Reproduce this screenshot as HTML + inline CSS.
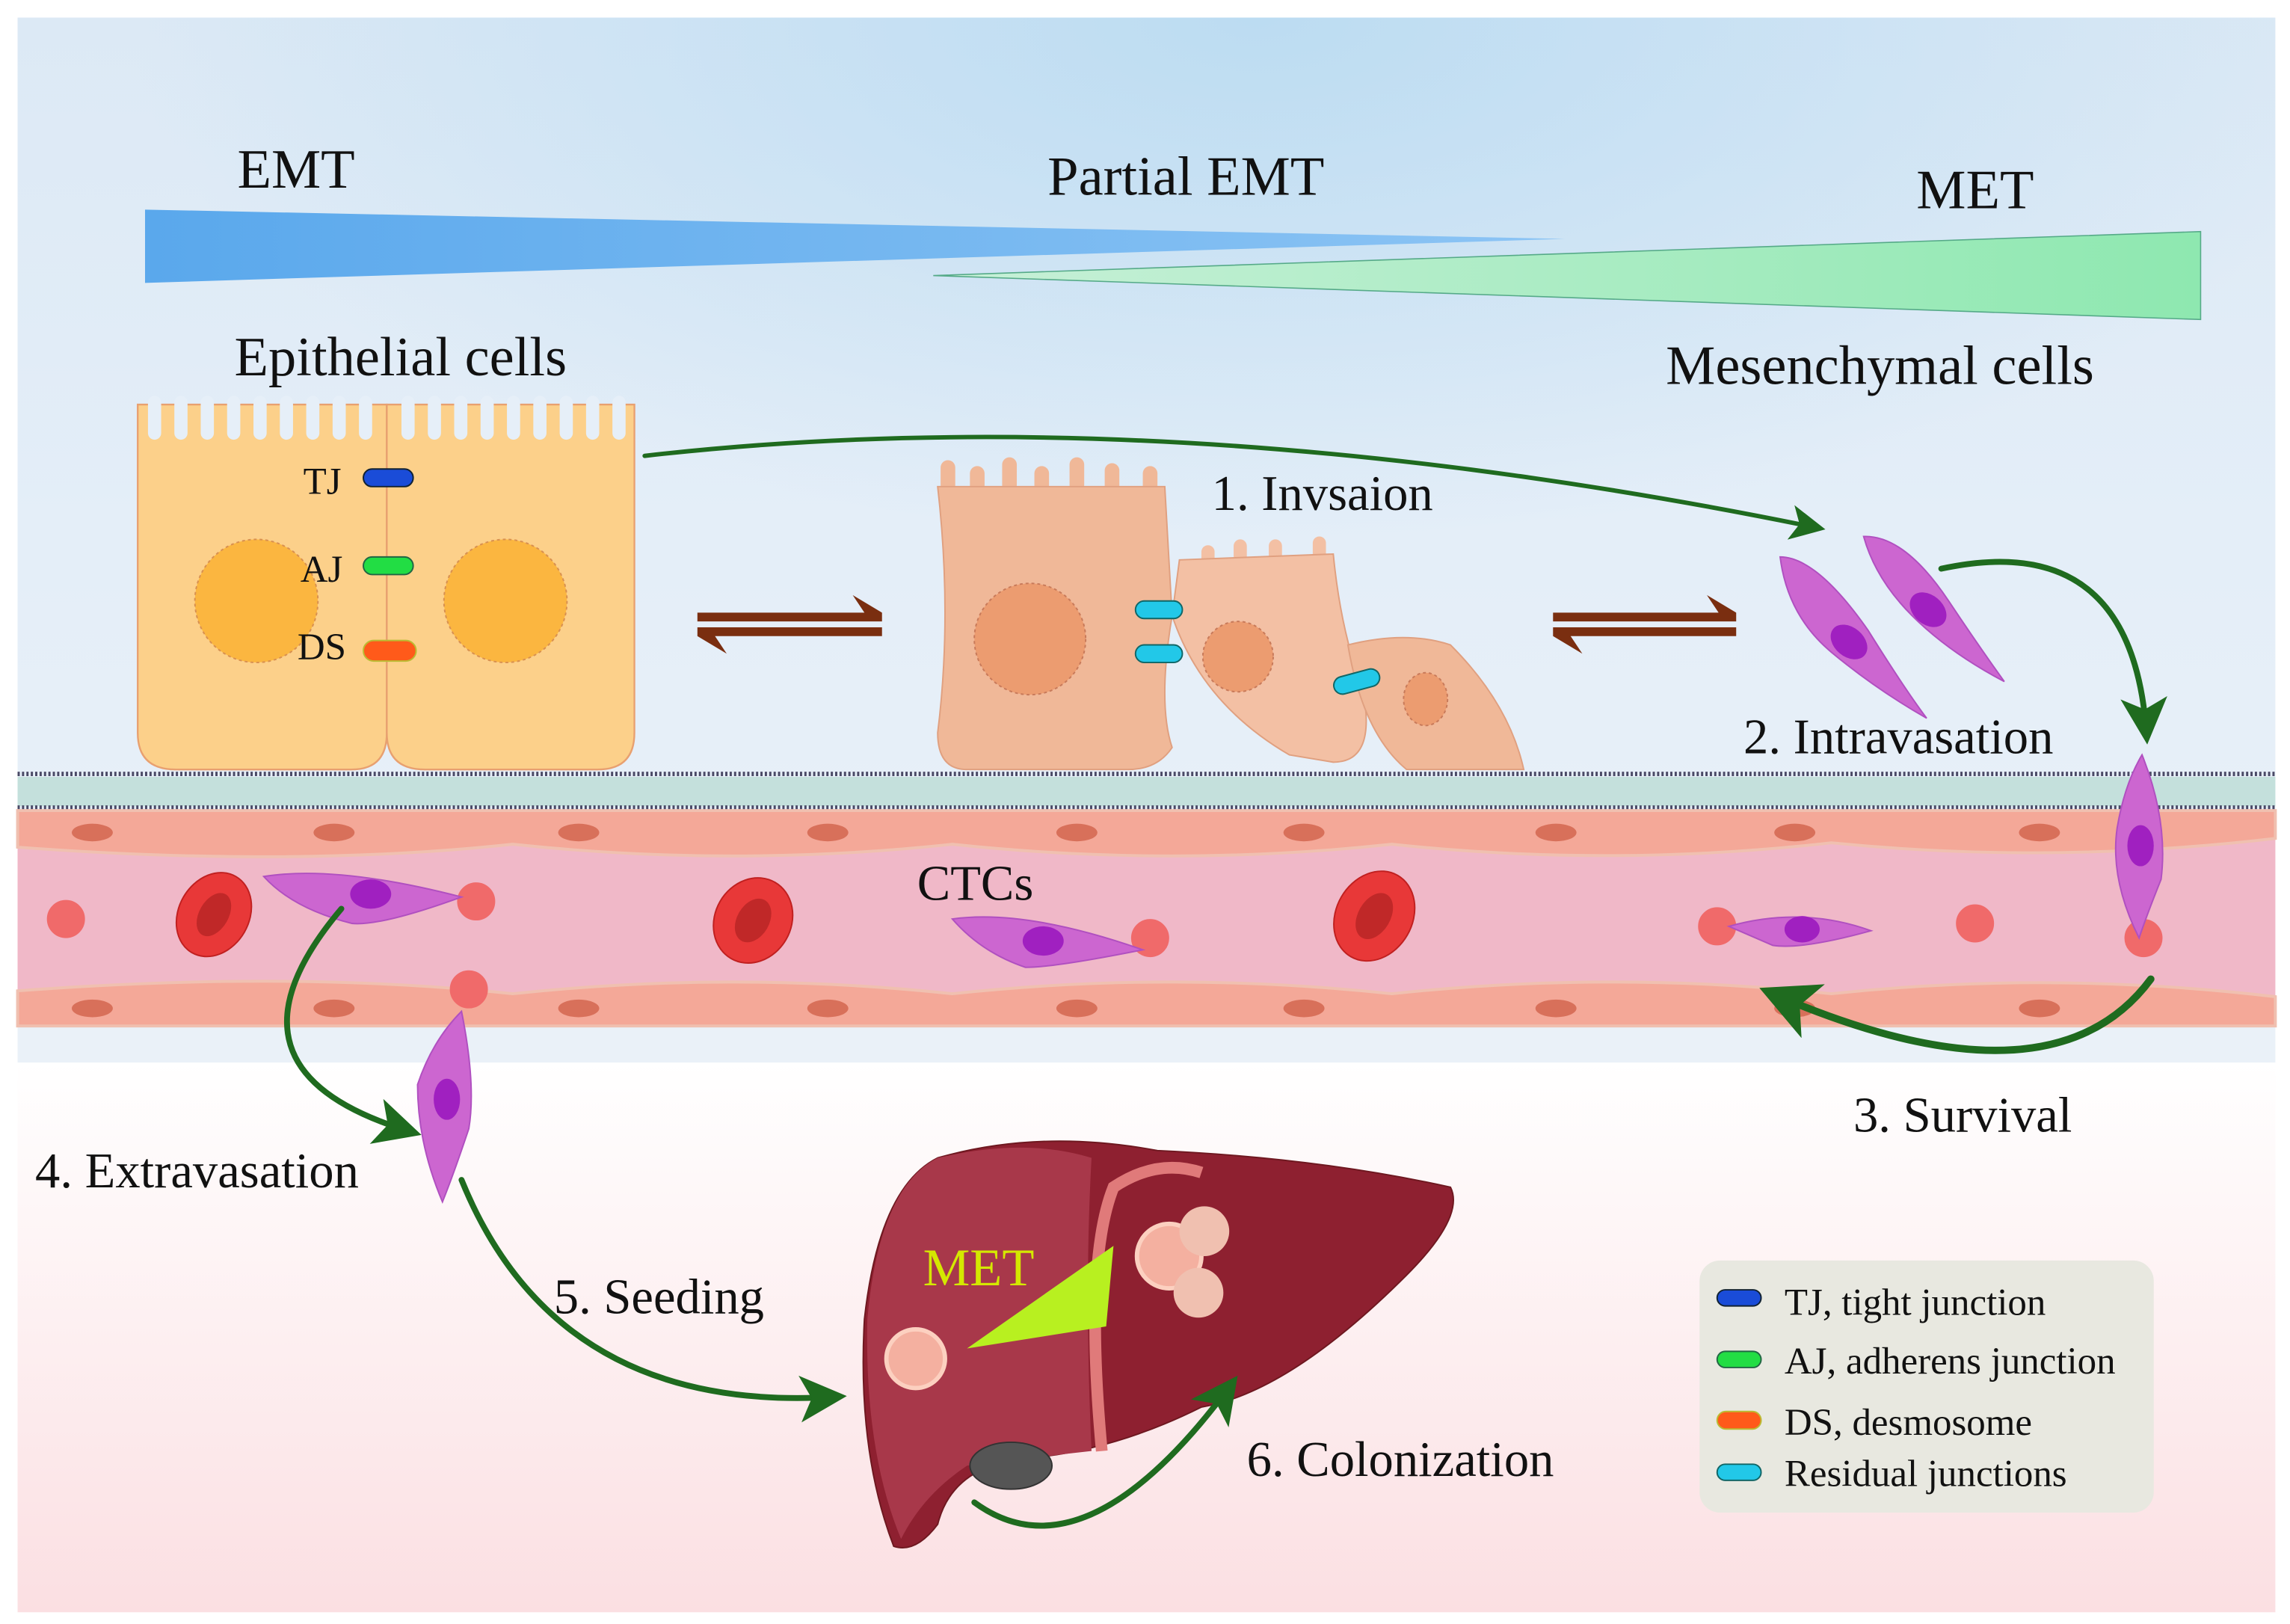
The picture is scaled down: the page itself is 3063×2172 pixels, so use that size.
<!DOCTYPE html>
<html><head><meta charset="utf-8"><style>
html,body{margin:0;padding:0;background:#fff}
svg{display:block}
text{font-family:"Liberation Serif",serif;fill:#111}
</style></head><body>
<svg width="3063" height="2172" viewBox="0 0 1563 1108" preserveAspectRatio="none" xmlns="http://www.w3.org/2000/svg">
<defs>
<linearGradient id="sky" x1="0" y1="0" x2="0" y2="1">
<stop offset="0" stop-color="#dce9f5"/><stop offset="0.5" stop-color="#e4eef8"/><stop offset="1" stop-color="#eaf1f8"/></linearGradient>
<radialGradient id="skyr" cx="0.55" cy="0" r="0.5"><stop offset="0" stop-color="#bcdcf2"/><stop offset="1" stop-color="#bcdcf2" stop-opacity="0"/></radialGradient>
<linearGradient id="low" x1="0" y1="0" x2="0" y2="1"><stop offset="0" stop-color="#ffffff"/><stop offset="1" stop-color="#fbdfe2"/></linearGradient>
<linearGradient id="blueW" x1="0" y1="0" x2="1" y2="0"><stop offset="0" stop-color="#5aa8ec"/><stop offset="1" stop-color="#8cc4f4"/></linearGradient>
<linearGradient id="greenW" x1="0" y1="0" x2="1" y2="0"><stop offset="0" stop-color="#c8f0d8"/><stop offset="1" stop-color="#8ee8b0"/></linearGradient>
<marker id="ah" markerWidth="8" markerHeight="8" refX="6" refY="4" orient="auto" markerUnits="strokeWidth"><path d="M0,0 L8,4 L0,8 L2,4 Z" fill="#1f6b1f"/></marker>
</defs>
<rect width="1563" height="1108" fill="#fff"/>
<rect x="12" y="12" width="1541" height="713" fill="url(#sky)"/>
<rect x="12" y="12" width="1541" height="713" fill="url(#skyr)"/>
<rect x="12" y="725" width="1541" height="375" fill="url(#low)"/>

<!-- wedges -->
<polygon points="99,143 1068,163 99,193" fill="url(#blueW)"/>
<polygon points="637,188 1502,158 1502,218" fill="url(#greenW)" stroke="#5a8" stroke-width="0.8"/>
<text x="162" y="128" font-size="38">EMT</text>
<text x="715" y="133" font-size="38">Partial EMT</text>
<text x="1308" y="142" font-size="38">MET</text>
<text x="160" y="256" font-size="38">Epithelial cells</text>
<text x="1137" y="262" font-size="38">Mesenchymal cells</text>

<!-- epithelial cells -->
<g fill="#fcd08a" stroke="#e8a070" stroke-width="1.2">
<path d="M94,276 L94,500 Q94,525 120,525 L240,525 Q264,525 264,500 L264,276 Z"/>
<path d="M264,276 L264,500 Q264,525 290,525 L408,525 Q433,525 433,500 L433,276 Z"/>
</g>
<g fill="#e6eff8">
<rect x="101" y="270" width="9" height="30" rx="4.5"/><rect x="119" y="270" width="9" height="30" rx="4.5"/><rect x="137" y="270" width="9" height="30" rx="4.5"/><rect x="155" y="270" width="9" height="30" rx="4.5"/><rect x="173" y="270" width="9" height="30" rx="4.5"/><rect x="191" y="270" width="9" height="30" rx="4.5"/><rect x="209" y="270" width="9" height="30" rx="4.5"/><rect x="227" y="270" width="9" height="30" rx="4.5"/><rect x="245" y="270" width="9" height="30" rx="4.5"/>
<rect x="274" y="270" width="9" height="30" rx="4.5"/><rect x="292" y="270" width="9" height="30" rx="4.5"/><rect x="310" y="270" width="9" height="30" rx="4.5"/><rect x="328" y="270" width="9" height="30" rx="4.5"/><rect x="346" y="270" width="9" height="30" rx="4.5"/><rect x="364" y="270" width="9" height="30" rx="4.5"/><rect x="382" y="270" width="9" height="30" rx="4.5"/><rect x="400" y="270" width="9" height="30" rx="4.5"/><rect x="418" y="270" width="9" height="30" rx="4.5"/>
</g>
<circle cx="175" cy="410" r="42" fill="#fbb640" stroke="#d89050" stroke-dasharray="2,2"/>
<circle cx="345" cy="410" r="42" fill="#fbb640" stroke="#d89050" stroke-dasharray="2,2"/>
<rect x="248" y="320" width="34" height="12" rx="6" fill="#1a4cd8" stroke="#123"/>
<rect x="248" y="380" width="34" height="12" rx="6" fill="#22dd44" stroke="#264"/>
<rect x="248" y="437" width="36" height="14" rx="7" fill="#ff5a1a" stroke="#bb3"/>
<text x="207" y="337" font-size="26">TJ</text>
<text x="205" y="397" font-size="26">AJ</text>
<text x="203" y="450" font-size="26">DS</text>

<!-- partial cells -->
<g fill="#f0b898">
<rect x="642" y="314" width="10" height="22" rx="5"/><rect x="662" y="318" width="10" height="20" rx="5"/><rect x="684" y="312" width="10" height="24" rx="5"/><rect x="706" y="318" width="10" height="20" rx="5"/><rect x="730" y="312" width="10" height="24" rx="5"/><rect x="754" y="316" width="10" height="22" rx="5"/><rect x="780" y="318" width="10" height="20" rx="5"/>
</g>
<g fill="#f3c0a4"><rect x="820" y="372" width="9" height="18" rx="4.5"/><rect x="842" y="368" width="9" height="18" rx="4.5"/><rect x="866" y="368" width="9" height="18" rx="4.5"/><rect x="896" y="366" width="9" height="18" rx="4.5"/></g>
<path d="M640,332 L795,332 L800,420 Q790,480 800,510 Q790,525 770,525 L660,525 Q640,525 640,500 Q650,420 640,332 Z" fill="#f0b898" stroke="#e0a080"/>
<path d="M805,382 L910,378 Q915,430 930,470 Q940,520 910,520 L880,515 Q820,480 800,420 Z" fill="#f3c0a4" stroke="#e0a080"/>
<path d="M920,440 Q960,430 990,440 Q1030,480 1040,525 L960,525 Q930,500 920,440 Z" fill="#f0b898" stroke="#e0a080"/>
<circle cx="703" cy="436" r="38" fill="#ec9c70" stroke="#c87a5a" stroke-dasharray="2,2"/>
<circle cx="845" cy="448" r="24" fill="#ec9c70" stroke="#c87a5a" stroke-dasharray="2,2"/>
<ellipse cx="973" cy="477" rx="15" ry="18" fill="#ec9c70" stroke="#c87a5a" stroke-dasharray="2,2"/>
<rect x="775" y="410" width="32" height="12" rx="6" fill="#22c8e8" stroke="#166"/>
<rect x="775" y="440" width="32" height="12" rx="6" fill="#22c8e8" stroke="#166"/>
<rect x="910" y="459" width="32" height="12" rx="6" fill="#22c8e8" stroke="#166" transform="rotate(-15 926 465)"/>
<text x="827" y="348" font-size="34">1. Invsaion</text>

<!-- equilibrium arrows -->
<g fill="#7a2e10">
<path d="M476,418 L602,418 L602,424 L476,424 Z M582,406 L602,418 L590,418 Z"/>
<path d="M476,428 L602,428 L602,434 L476,434 Z M476,434 L496,446 L488,434 Z"/>
<path d="M1060,418 L1185,418 L1185,424 L1060,424 Z M1165,406 L1185,418 L1173,418 Z"/>
<path d="M1060,428 L1185,428 L1185,434 L1060,434 Z M1060,434 L1080,446 L1072,434 Z"/>
</g>

<!-- mesenchymal cells -->
<g fill="#cc66d0" stroke="#b050c0">
<path d="M1215,380 Q1240,380 1275,430 Q1300,470 1315,490 Q1280,470 1250,445 Q1220,420 1215,380 Z"/>
<path d="M1272,366 Q1300,365 1330,410 Q1350,440 1368,465 Q1330,445 1305,420 Q1280,395 1272,366 Z"/>
</g>
<ellipse cx="1262" cy="438" rx="14" ry="10" fill="#a020c0" transform="rotate(40 1262 438)"/>
<ellipse cx="1316" cy="416" rx="14" ry="10" fill="#a020c0" transform="rotate(40 1316 416)"/>
<text x="1190" y="514" font-size="34">2. Intravasation</text>

<!-- membrane and vessel -->
<line x1="12" y1="528" x2="1553" y2="528" stroke="#4a4a66" stroke-width="3" stroke-dasharray="1.5,1.5"/>
<rect x="12" y="530" width="1541" height="20" fill="#c4e0dc"/>
<line x1="12" y1="551" x2="1553" y2="551" stroke="#4a4a66" stroke-width="3" stroke-dasharray="1.5,1.5"/>
<rect x="12" y="553" width="1541" height="147" fill="#f0b8c8"/>
<g fill="#f4a898" stroke="#f0c0b0" stroke-width="2">
<path d="M12,553 H1553 V572 Q1400,590 1250,575 Q1100,592 950,576 Q800,592 650,576 Q500,592 350,576 Q200,592 12,578 Z"/>
<path d="M12,700 H1553 V680 Q1400,662 1250,678 Q1100,662 950,678 Q800,662 650,678 Q500,662 350,678 Q200,662 12,676 Z"/>
</g>
<g fill="#d8705a">
<ellipse cx="63" cy="568" rx="14" ry="6"/><ellipse cx="228" cy="568" rx="14" ry="6"/><ellipse cx="395" cy="568" rx="14" ry="6"/><ellipse cx="565" cy="568" rx="14" ry="6"/><ellipse cx="735" cy="568" rx="14" ry="6"/><ellipse cx="890" cy="568" rx="14" ry="6"/><ellipse cx="1062" cy="568" rx="14" ry="6"/><ellipse cx="1225" cy="568" rx="14" ry="6"/><ellipse cx="1392" cy="568" rx="14" ry="6"/>
<ellipse cx="63" cy="688" rx="14" ry="6"/><ellipse cx="228" cy="688" rx="14" ry="6"/><ellipse cx="395" cy="688" rx="14" ry="6"/><ellipse cx="565" cy="688" rx="14" ry="6"/><ellipse cx="735" cy="688" rx="14" ry="6"/><ellipse cx="890" cy="688" rx="14" ry="6"/><ellipse cx="1062" cy="688" rx="14" ry="6"/><ellipse cx="1225" cy="688" rx="14" ry="6"/><ellipse cx="1392" cy="688" rx="14" ry="6"/>
</g>
<!-- RBCs -->
<g fill="#e83838" stroke="#c02020">
<ellipse cx="146" cy="624" rx="24" ry="30" transform="rotate(30 146 624)"/>
<ellipse cx="514" cy="628" rx="26" ry="30" transform="rotate(30 514 628)"/>
<ellipse cx="938" cy="625" rx="26" ry="32" transform="rotate(30 938 625)"/>
</g>
<g fill="#c02828"><ellipse cx="146" cy="624" rx="10" ry="16" transform="rotate(30 146 624)"/><ellipse cx="514" cy="628" rx="11" ry="16" transform="rotate(30 514 628)"/><ellipse cx="938" cy="625" rx="11" ry="17" transform="rotate(30 938 625)"/></g>
<!-- platelets -->
<g fill="#f06a6a" stroke="#f06a6a" stroke-width="2">
<circle cx="45" cy="627" r="12"/><circle cx="325" cy="615" r="12"/><circle cx="320" cy="675" r="12"/><circle cx="785" cy="640" r="12"/><circle cx="1172" cy="632" r="12"/><circle cx="1348" cy="630" r="12"/><circle cx="1463" cy="640" r="12"/>
</g>
<!-- CTCs -->
<g fill="#cc66d0" stroke="#b050c0">
<path d="M180,598 Q230,590 315,612 Q260,632 240,630 Q200,620 180,598 Z"/>
<path d="M650,627 Q700,620 780,648 Q720,660 700,660 Q670,650 650,627 Z"/>
<path d="M1180,632 Q1230,618 1277,635 Q1230,648 1210,645 Z"/>
<path d="M1462,515 Q1480,560 1475,600 Q1465,625 1460,640 Q1440,600 1445,565 Q1450,535 1462,515 Z"/>
<path d="M315,690 Q325,740 320,770 Q310,800 302,820 Q285,780 285,740 Q295,710 315,690 Z"/>
</g>
<g fill="#a020c0"><ellipse cx="253" cy="610" rx="14" ry="10"/><ellipse cx="712" cy="642" rx="14" ry="10"/><ellipse cx="1230" cy="634" rx="12" ry="9"/><ellipse cx="1461" cy="577" rx="9" ry="14"/><ellipse cx="305" cy="750" rx="9" ry="14"/></g>
<text x="626" y="614" font-size="34">CTCs</text>
<text x="1265" y="772" font-size="34">3. Survival</text>
<text x="24" y="810" font-size="34">4. Extravasation</text>
<text x="378" y="896" font-size="34">5. Seeding</text>
<text x="851" y="1007" font-size="34">6. Colonization</text>

<!-- liver -->
<path d="M640,790 Q710,770 790,785 Q900,790 990,810 Q1000,830 960,870 Q880,950 820,960 Q760,990 700,995 Q650,1000 640,1040 Q625,1060 610,1055 Q585,990 590,900 Q600,810 640,790 Z" fill="#8e2030" stroke="#6e1820"/>
<path d="M640,790 Q700,776 745,790 Q740,880 745,990 Q700,995 660,1000 Q630,1020 615,1050 Q590,990 592,900 Q600,810 640,790 Z" fill="#a8384a"/>
<path d="M752,990 Q740,860 760,810 Q790,790 820,800" fill="none" stroke="#e07a7a" stroke-width="8"/>
<ellipse cx="690" cy="1000" rx="28" ry="16" fill="#555" stroke="#333"/>
<polygon points="660,920 760,850 755,905" fill="#b8f020"/>
<text x="630" y="877" font-size="36" style="fill:#d4e800">MET</text>
<circle cx="625" cy="927" r="20" fill="#f4b0a0" stroke="#fcd0c0" stroke-width="3"/>
<circle cx="798" cy="857" r="22" fill="#f4b0a0" stroke="#fcd0c0" stroke-width="3"/>
<circle cx="822" cy="840" r="17" fill="#f0c0b0"/>
<circle cx="818" cy="882" r="17" fill="#f0c0b0"/>

<!-- green arrows (on top) -->
<g fill="none" stroke="#1f6b1f" stroke-linecap="round">
<path d="M440,311 Q800,270 1240,360" stroke-width="3" marker-end="url(#ah)"/>
<path d="M1325,388 Q1455,360 1465,500" stroke-width="4" marker-end="url(#ah)"/>
<path d="M1468,668 Q1400,760 1210,678" stroke-width="5" marker-end="url(#ah)"/>
<path d="M233,620 Q140,730 280,772" stroke-width="4" marker-end="url(#ah)"/>
<path d="M315,805 Q380,965 570,953" stroke-width="4" marker-end="url(#ah)"/>
<path d="M665,1025 Q740,1080 840,945" stroke-width="4" marker-end="url(#ah)"/>
</g>

<!-- legend -->
<rect x="1160" y="860" width="310" height="172" rx="14" fill="#e8e8e0"/>
<rect x="1172" y="880" width="30" height="11" rx="5.5" fill="#1a4cd8" stroke="#123"/>
<rect x="1172" y="922" width="30" height="11" rx="5.5" fill="#22dd44" stroke="#264"/>
<rect x="1172" y="963" width="30" height="12" rx="6" fill="#ff5a1a" stroke="#bb3"/>
<rect x="1172" y="999" width="30" height="11" rx="5.5" fill="#22c8e8" stroke="#166"/>
<text x="1218" y="897" font-size="26">TJ, tight junction</text>
<text x="1218" y="937" font-size="26">AJ, adherens junction</text>
<text x="1218" y="979" font-size="26">DS, desmosome</text>
<text x="1218" y="1014" font-size="26">Residual junctions</text>
</svg>
</body></html>
